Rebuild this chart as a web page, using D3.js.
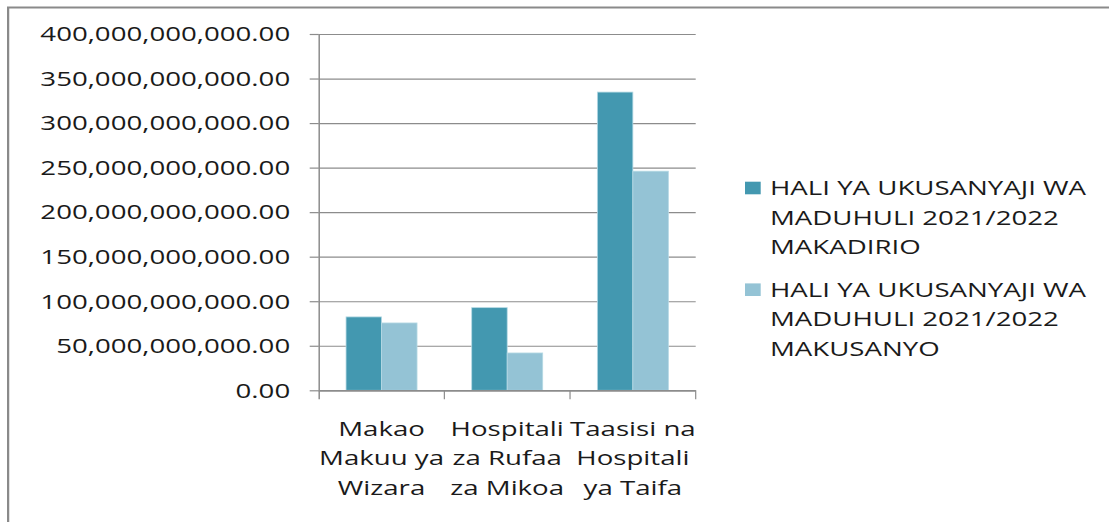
<!DOCTYPE html>
<html><head><meta charset="utf-8">
<script src="https://cdn.jsdelivr.net/npm/d3@7"></script>
<style>body{margin:0;background:#fff}svg{display:block}</style>
</head><body>
<svg id="c" width="1109" height="522"></svg>
<script>
const categories = ["Makao\nMakuu ya\nWizara", "Hospitali\nza Rufaa\nza Mikoa", "Taasisi na\nHospitali\nya Taifa"];
const seriesNames = ["HALI YA UKUSANYAJI WA\nMADUHULI 2021/2022\nMAKADIRIO", "HALI YA UKUSANYAJI WA\nMADUHULI 2021/2022\nMAKUSANYO"];
const makadirio = [82.4e9, 92.8e9, 334.8e9];
const makusanyo = [75.6e9, 41.9e9, 246.0e9];
const yTicks = [0, 50e9, 100e9, 150e9, 200e9, 250e9, 300e9, 350e9, 400e9];
const colors = ["#4398b0", "#94c3d5"];

const series = [makadirio, makusanyo];
const FONT = "'Open Sans', sans-serif";
const FS = 19.5;
const TXT = "#1a1a1a";
const svg = d3.select("#c");

// horizontal stretch factor of text (reference image is horizontally stretched)
const probe = svg.append("text").attr("font-family", FONT).attr("font-size", FS).text("400,000,000,000.00");
const sx = 250 / probe.node().getComputedTextLength();
probe.remove();

// outer frame
svg.append("path").attr("d", "M8,530 V7.5 H1120").attr("fill", "none").attr("stroke", "#8a8a8a").attr("stroke-width", 2);
svg.append("line").attr("x1", 8.5).attr("x2", 8.5).attr("y1", 7).attr("y2", 530).attr("stroke", "#8a8a8a").attr("stroke-width", 1.5);

const pL = 318.7, pR = 695.7, pT = 34, pB = 390.3;
const y = d3.scaleLinear().domain([0, 400e9]).range([pB, pT]);
const x0 = d3.scaleBand().domain(categories).range([pL, pR]).paddingInner(0).paddingOuter(0);
const x1 = d3.scaleBand().domain(d3.range(series.length)).range([0, x0.bandwidth()]).paddingInner(0).paddingOuter(0.77);

// gridlines
const grid = svg.append("g").attr("transform", `translate(${pL},0)`)
  .call(d3.axisLeft(y).tickValues(yTicks).tickSize(-(pR - pL)).tickFormat(""));
grid.select(".domain").remove();
grid.selectAll("line").attr("stroke", "#8c8c8c").attr("stroke-width", 1.2);

// bars
const groups = svg.append("g").selectAll("g").data(categories).join("g")
  .attr("transform", d => `translate(${x0(d)},0)`);
groups.selectAll("rect").data((d, i) => series.map((s, k) => ({k, v: s[i]}))).join("rect")
  .attr("x", d => x1(d.k)).attr("width", x1.bandwidth())
  .attr("y", d => y(d.v)).attr("height", d => y(0) - y(d.v))
  .attr("fill", d => colors[d.k]).attr("stroke", "#b5d9e4").attr("stroke-width", 0.8);

// y axis
const ya = svg.append("g").attr("transform", `translate(${pL},0)`)
  .call(d3.axisLeft(y).tickValues(yTicks).tickSize(9).tickSizeOuter(0).tickFormat(d3.format(",.2f")));
ya.selectAll("line").attr("stroke", "#8c8c8c").attr("stroke-width", 1.2);
ya.select(".domain").attr("stroke", "#8c8c8c").attr("stroke-width", 1.5).attr("d", `M0.5,${pT}V${pB + 9}`);
ya.selectAll("text").attr("x", null).attr("dy", null)
  .attr("transform", `translate(-28.5,6.8) scale(${sx},1)`)
  .attr("font-family", FONT).attr("font-size", FS).attr("fill", TXT).attr("text-anchor", "end");

// x axis
const xa = svg.append("g").attr("transform", `translate(0,${pB})`)
  .call(d3.axisBottom(x0).tickSize(0).tickFormat(""));
xa.select(".domain").attr("stroke", "#8c8c8c").attr("stroke-width", 1.5).attr("d", `M${pL},0.5H${pR}`);
xa.selectAll(".tick").remove();
const bounds = categories.map(c => x0(c) + x0.bandwidth());
xa.selectAll("line.sep").data(bounds).join("line").attr("class", "sep")
  .attr("x1", d => d).attr("x2", d => d).attr("y1", 0).attr("y2", 9)
  .attr("stroke", "#8c8c8c").attr("stroke-width", 1.2);
const lines = [45.7, 74.2, 104.5];
categories.forEach(c => {
  const cx = x0(c) + x0.bandwidth() / 2;
  c.split("\n").forEach((t, j) => {
    svg.append("text").attr("transform", `translate(${cx},${pB + lines[j]}) scale(${sx},1)`)
      .attr("text-anchor", "middle").attr("font-family", FONT).attr("font-size", FS).attr("fill", TXT).text(t);
  });
});

// legend
const lg = svg.append("g");
seriesNames.forEach((name, i) => {
  const oy = i * 101.7;
  lg.append("rect").attr("x", 745).attr("y", 181.7 + oy).attr("width", 15.7).attr("height", 12.6).attr("fill", colors[i]);
  name.split("\n").forEach((t, j) => {
    lg.append("text").attr("transform", `translate(770,${195 + oy + j * 29.5}) scale(${sx},1)`)
      .attr("font-family", FONT).attr("font-size", FS).attr("fill", TXT).text(t);
  });
});
</script>
</body></html>
